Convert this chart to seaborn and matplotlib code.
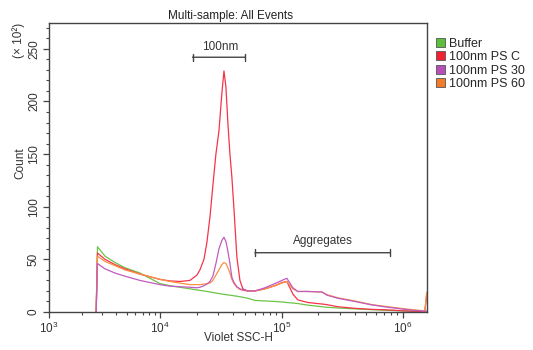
import numpy as np
import pandas as pd
import matplotlib
matplotlib.use("Agg")
import matplotlib.pyplot as plt
from matplotlib.patches import Patch
from matplotlib.ticker import FixedLocator, NullFormatter
import seaborn as sns

# bin centres (log10 of Violet SSC-H) and counts (x 10^2)
ssc_log = [3.425, 3.437, 3.505, 3.595, 3.685, 3.82, 4.0, 4.082, 4.164, 4.246,
           4.303, 4.328, 4.361, 4.385, 4.41, 4.434, 4.459, 4.484, 4.508, 4.525,
           4.541, 4.557, 4.574, 4.59, 4.607, 4.631, 4.656, 4.68, 4.721, 4.779,
           4.861, 4.943, 5.0, 5.041, 5.091, 5.132, 5.215, 5.331, 5.372, 5.463,
           5.603, 5.744, 5.876, 6.017, 6.099, 6.182, 6.198]

buffer_counts = [0, 62, 53, 47, 42, 37, 27, 25, 23.5, 22,
                 21, 20.5, 20, 19.5, 19, 18.5, 18, 17.5, 17, 16.8,
                 16.5, 16.2, 16, 15.7, 15.4, 15, 14.5, 14, 13, 11,
                 10.5, 10, 9.5, 9, 8.5, 8, 6.5, 5, 4.5, 3.8,
                 3, 2.2, 1.6, 1, 0.5, 0.2, 0.2]

ps_c_counts = [0, 56, 50, 45, 41, 36, 31, 29.5, 29, 30,
               35, 40, 50, 66, 90, 120, 150, 172, 208, 229,
               214, 180, 150, 128, 98, 52, 30, 22, 20, 20,
               22, 25, 28, 29, 17, 11.5, 9, 7.6, 7, 5,
               3.5, 2.5, 2, 1, 0.7, 0.5, 17]

ps_30_counts = [0, 46, 41, 37, 34, 30, 26, 24.5, 24, 23.5,
                23, 23.5, 25, 26.5, 29, 34, 46, 60, 68, 71,
                67, 58, 46, 33, 28, 24, 22, 21, 20, 20,
                23, 27, 30, 32, 23, 19.5, 19.5, 19, 16, 13,
                10, 6.7, 4.5, 2.5, 1.5, 0.8, 0.8]

ps_60_counts = [0, 53, 48, 44, 40, 36, 31, 29, 27.5, 26,
                26, 26, 26.5, 27, 27.5, 30, 35, 40, 45, 47,
                46, 42, 37, 31, 27, 23.5, 21.5, 20.5, 20, 20,
                22, 25, 27.5, 29, 22, 19.5, 19.5, 19, 16.5, 13.5,
                10.5, 7, 5, 3, 2, 1, 19]

samples = ["Buffer", "100nm PS C", "100nm PS 30", "100nm PS 60"]
colors = ["#5cbf3c", "#f0202e", "#b84fb8", "#f57a2a"]
line_colors = ["#6cc447", "#f7334a", "#c05cc0", "#fb8f42"]

n = len(ssc_log)
df = pd.DataFrame({
    "ssc": np.tile(10 ** np.array(ssc_log), 4),
    "count": buffer_counts + ps_c_counts + ps_30_counts + ps_60_counts,
    "sample": np.repeat(samples, n),
})

sns.set_style("ticks")
plt.rcParams["font.family"] = ["Liberation Sans", "DejaVu Sans"]
plt.rcParams["mathtext.default"] = "regular"

fig = plt.figure(figsize=(5.33, 3.5), dpi=100)
ax = fig.add_axes([49 / 533, 38 / 350, 378 / 533, 289.5 / 350])

# the cytometer axis is not exactly log: decades have slightly different widths
dec_log = [-10, 3, 4, 5, 6, 12]
dec_pos = [-1443, 0, 111, 233, 354, 1080]


def fwd(x):
    x = np.clip(np.asarray(x, dtype=float), 1e-10, None)
    return np.interp(np.log10(x), dec_log, dec_pos)


def inv(p):
    return 10 ** np.interp(p, dec_pos, dec_log)


ax.set_xscale("function", functions=(fwd, inv))

# orange under purple so the purple bump shows as in the original
draw_order = ["Buffer", "100nm PS C", "100nm PS 60", "100nm PS 30"]
sns.lineplot(data=df, x="ssc", y="count", hue="sample", hue_order=draw_order,
             palette=dict(zip(samples, line_colors)), estimator=None, sort=False,
             legend=False, lw=0.9, ax=ax)

ax.set_xlim(1e3, 10 ** 6.2)
ax.set_ylim(0, 275)

ax.xaxis.set_major_locator(FixedLocator([1e3, 1e4, 1e5, 1e6]))
ax.set_xticklabels(["$10^3$", "$10^4$", "$10^5$", "$10^6$"])
ax.xaxis.set_minor_locator(FixedLocator([k * 10 ** d for d in (3, 4, 5) for k in range(2, 10)]))
ax.xaxis.set_minor_formatter(NullFormatter())
ax.yaxis.set_major_locator(FixedLocator([0, 50, 100, 150, 200, 250]))
ax.yaxis.set_minor_locator(FixedLocator(list(range(0, 276, 10))))

edge = "#444444"
for s in ax.spines.values():
    s.set_color(edge)
    s.set_linewidth(1.0)
ax.tick_params(which="major", length=4.5, width=0.9, color=edge, labelsize=8.5,
               labelcolor="#333333", pad=2)
ax.tick_params(which="minor", length=2.5, width=0.8, color=edge)
ax.tick_params(axis="y", labelrotation=90, pad=2)
for lab in ax.get_yticklabels():
    lab.set_va("center")

ax.set_xlabel("Violet SSC-H", fontsize=8.5, color="#333333")
ax.xaxis.set_label_coords(0.5, -0.07)
ax.set_ylabel("Count", fontsize=8.5, color="#333333")
ax.yaxis.set_label_coords(-0.06, 0.515)
ax.set_title("Multi-sample: All Events", fontsize=8.5, color="#222222",
             x=0.479, pad=2)
fig.text(19 / 533, 1 - 40 / 350, "(× 10²)", rotation=90, ha="center", va="center",
         fontsize=8.5, color="#333333")

# gates
bracket = dict(arrowstyle="|-|, widthA=0.25, widthB=0.25", color=edge, lw=1.0,
               shrinkA=0, shrinkB=0)
ax.annotate("", xy=(18500, 242), xytext=(50000, 242), arrowprops=bracket)
ax.text(31500, 252, "100nm", ha="center", va="center", fontsize=8.5, color="#333333")
ax.annotate("", xy=(60100, 56.3), xytext=(782000, 56.3), arrowprops=bracket)
ax.text(219000, 67.4, "Aggregates", ha="center", va="center", fontsize=8.5,
        color="#333333")

handles = [Patch(facecolor=c, edgecolor="#555555", lw=0.6) for c in colors]
fig.legend(handles, samples, loc="upper left", bbox_to_anchor=(436 / 533, 1 - 38 / 350),
           frameon=False, fontsize=9, handlelength=0.75, handleheight=0.75,
           handletextpad=0.3, labelspacing=0.1, borderaxespad=0, borderpad=0)

fig.savefig("out.png", dpi=100)
